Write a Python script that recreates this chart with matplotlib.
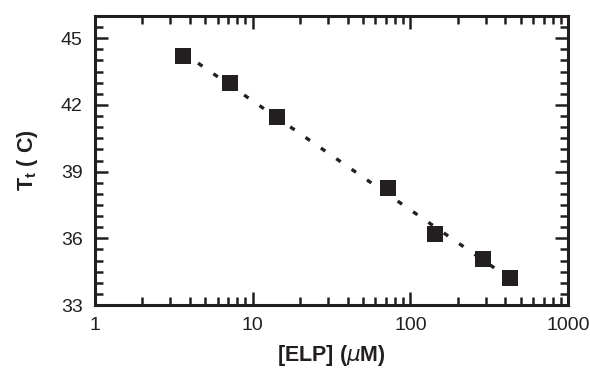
import numpy as np
import matplotlib
matplotlib.use("Agg")
import matplotlib.pyplot as plt
from matplotlib.ticker import FixedLocator, MultipleLocator, NullFormatter, FixedFormatter

conc_uM = [3.6, 7.2, 14.3, 72, 144, 287, 430]
tt_C = [44.2, 43.0, 41.45, 38.25, 36.2, 35.05, 34.2]
yticks = [33, 36, 39, 42, 45]
xticks = [1, 10, 100, 1000]
xticklabels = ["1", "10", "100", "1000"]

plt.rcParams['font.family'] = ['Liberation Sans', 'DejaVu Sans']
fig = plt.figure(figsize=(5.9, 3.72), dpi=100)
ax = fig.add_axes([95/590, 1-305/372, (568-95)/590, (305-16)/372])

# fit line (linear in log x)
lx = np.log10(conc_uM)
p = np.polyfit(lx, tt_C, 1)
xf = np.array([conc_uM[0], conc_uM[-1]])
ax.plot(xf, np.polyval(p, np.log10(xf)), color='#231f20', lw=2.4,
        linestyle=(0, (1.6, 4.0)), zorder=2)
ax.plot(conc_uM, tt_C, 's', color='#231f20', ms=11, mew=0, zorder=3)

ax.set_xscale('log')
ax.set_xlim(1, 1000)
ax.set_ylim(33, 46)
ax.xaxis.set_major_locator(FixedLocator(xticks))
ax.xaxis.set_major_formatter(FixedFormatter(xticklabels))
ax.xaxis.set_minor_formatter(NullFormatter())
ax.yaxis.set_major_locator(FixedLocator(yticks))
ax.yaxis.set_minor_locator(MultipleLocator(0.5))

for s in ax.spines.values():
    s.set_linewidth(2.2)
    s.set_color('#231f20')
ax.tick_params(which='both', direction='in', top=True, right=True,
               color='#231f20', labelsize=14, labelcolor='#231f20')
ax.tick_params(which='major', length=9.5, width=1.8, pad=9)
ax.tick_params(which='minor', length=6, width=1.8)

ax.set_xlabel(r"[ELP] ($\mu$M)", fontsize=15.5, fontweight='bold', labelpad=6, color='#231f20')
ax.set_ylabel(r"T$_\mathregular{t}$ ( C)", fontsize=15.5, fontweight='bold', labelpad=15, color='#231f20')

fig.savefig("out.png", dpi=100)
